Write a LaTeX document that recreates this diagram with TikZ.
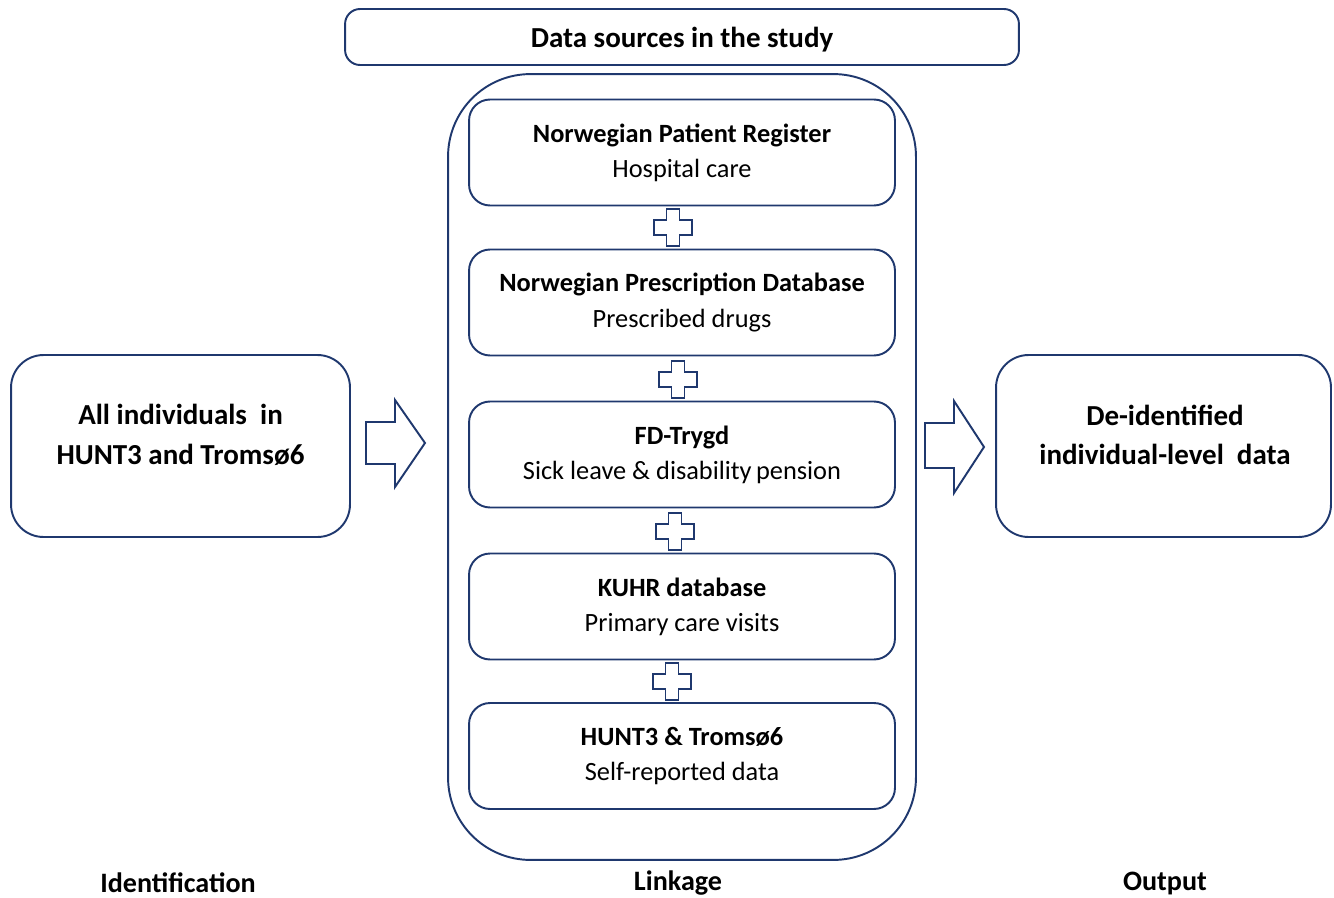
\documentclass[tikz,border=0pt]{standalone}
\usepackage{fontspec}
\setmainfont{Carlito}
\definecolor{navy}{RGB}{31,56,110}
\begin{document}
\begin{tikzpicture}[x=0.02cm,y=-0.02cm,
  line width=1.1pt,
  frame/.style={draw=navy, line width=1.1pt, align=center, inner sep=2pt},
  src/.style={frame, rounded corners=0.42cm, minimum width=8.52cm, minimum height=2.12cm,
     font=\fontsize{15}{20}\selectfont},
  sidebox/.style={frame, rounded corners=0.65cm, minimum width=6.78cm, minimum height=3.64cm},
  sidetext/.style={align=center, font=\fontsize{16.5}{22.5}\selectfont\bfseries},
  lbl/.style={font=\fontsize{16}{19}\selectfont\bfseries},
  plusshape/.style={draw=navy, line width=1.1pt, fill=white},
  bigarrow/.style={draw=navy, line width=1.1pt, fill=white, line join=miter}
]
\useasboundingbox (0,0) rectangle (1334,898);

% top title box
\node[frame, rounded corners=0.3cm, minimum width=13.48cm, minimum height=1.12cm] (title) at (682,37) {};
\node[font=\fontsize{16.5}{19}\selectfont\bfseries] (titletext) at (682,40) {Data sources in the study};

% outer linkage container
\node[frame, rounded corners=1.65cm, minimum width=9.36cm, minimum height=15.72cm] (outer) at (682,467) {};

% source boxes
\node[src] (npr) at (682,152.5) {\textbf{Norwegian Patient Register}\\Hospital care};
\node[src] (presc) at (682,302.5) {\textbf{Norwegian Prescription Database}\\Prescribed drugs};
\node[src] (fd) at (682,454.5) {\textbf{FD-Trygd}\\Sick leave \& disability\,pension};
\node[src] (kuhr) at (682,606.5) {\textbf{KUHR database}\\Primary care visits};
\node[src] (hunt) at (682,756) {\textbf{HUNT3 \& Tromsø6}\\Self-reported data};

% plus signs
\foreach \cx/\cy in {673/227.5, 678/379.5, 675/531.5, 672/681.5}{
  \draw[plusshape] (\cx-6.5,\cy-18.5) -- (\cx+6.5,\cy-18.5) -- (\cx+6.5,\cy-7.5) -- (\cx+19,\cy-7.5)
    -- (\cx+19,\cy+7.5) -- (\cx+6.5,\cy+7.5) -- (\cx+6.5,\cy+18.5) -- (\cx-6.5,\cy+18.5)
    -- (\cx-6.5,\cy+7.5) -- (\cx-19,\cy+7.5) -- (\cx-19,\cy-7.5) -- (\cx-6.5,\cy-7.5) -- cycle;
}

% side boxes
\node[sidebox] (ident) at (180.5,446) {};
\node[sidetext] (identtext) at (180.5,435) {All individuals\ \ in\\HUNT3 and Tromsø6};
\node[sidebox, minimum width=6.7cm] (outp) at (1163.5,446) {};
\node[sidetext] (outptext) at (1165,435) {De-identified\\individual-level\ \ data};

% block arrows
\draw[bigarrow] (366,422) -- (395,422) -- (395,400) -- (425,443) -- (395,487) -- (395,464) -- (366,464) -- cycle;
\draw[bigarrow] (925,423) -- (954,423) -- (954,401) -- (984,447) -- (954,493) -- (954,468) -- (925,468) -- cycle;

% bottom labels
\node[lbl] (l1) at (178,883) {Identification};
\node[lbl] (l2) at (678,883) {Linkage};
\node[lbl] (l3) at (1165,883) {Output};
\end{tikzpicture}
\end{document}
